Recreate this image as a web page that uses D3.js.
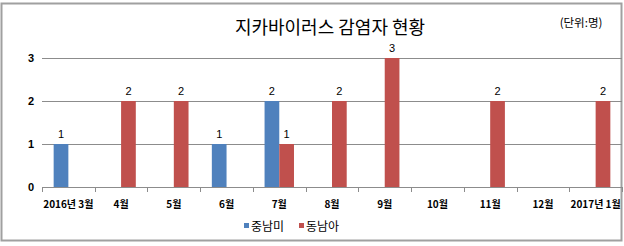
<!DOCTYPE html>
<html><head><meta charset="utf-8">
<script src="https://cdn.jsdelivr.net/npm/d3@7"></script>
<style>body{margin:0;background:#fff;}svg{display:block;font-family:"Noto Sans CJK KR","Noto Sans",sans-serif;}</style>
</head><body>
<script>
const categories = ["2016년 3월","4월","5월","6월","7월","8월","9월","10월","11월","12월","2017년 1월"];
const seriesNames = ["중남미","동남아"];
const centralSouthAmerica = [1,0,0,1,2,0,0,0,0,0,0];
const southeastAsia = [0,2,2,0,1,2,3,0,2,0,2];
const yTicks = [0,1,2,3];
const colors = ["#4F81BD","#C0504D"];
const title = "지카바이러스 감염자 현황";
const unitLabel = "(단위:명)";

(function(){
const W = 624, H = 246;
const svg = d3.select("body").append("svg").attr("width", W).attr("height", H);
svg.append("rect").attr("x",1.5).attr("y",3.5).attr("width",620).attr("height",237)
  .attr("fill","#fff").attr("stroke","#a0a0a0").attr("stroke-width",2);

const pLeft = 42, pRight = 622, pTop = 58, pBottom = 187;
const x = d3.scaleBand().domain(categories).range([pLeft,pRight]).paddingInner(0.442).paddingOuter(0.221);
const outer = d3.scaleBand().domain(categories).range([pLeft,pRight]);
const inner = d3.scaleBand().domain([0,1]).range([0, x.bandwidth()]);
const y = d3.scaleLinear().domain([0,3]).range([pBottom, pTop]);

// gridlines
svg.append("g").selectAll("line").data(yTicks).join("line")
  .attr("x1", pLeft).attr("x2", pRight)
  .attr("y1", d => Math.round(y(d))+0.5).attr("y2", d => Math.round(y(d))+0.5)
  .attr("stroke","#8c8c8c").attr("stroke-width",1);

// y labels
svg.append("g").selectAll("text").data(yTicks).join("text")
  .attr("x", 31).attr("y", d => y(d)).attr("dy","0.35em").attr("text-anchor","middle")
  .attr("font-size",11).attr("font-weight","bold").attr("font-family","Liberation Sans, Arial, sans-serif")
  .text(d => d);

// x ticks
const bounds = categories.map(c => outer(c)).concat([pRight]);
svg.append("g").selectAll("line").data(bounds).join("line")
  .attr("x1", d => Math.round(d)+0.5).attr("x2", d => Math.round(d)+0.5)
  .attr("y1", Math.round(y(0))).attr("y2", Math.round(y(0))+5)
  .attr("stroke","#8c8c8c");

// bars
const series = [centralSouthAmerica, southeastAsia];
series.forEach((vals, s) => {
  const g = svg.append("g");
  vals.forEach((v, i) => {
    if (!v) return;
    const bx = x(categories[i]) + inner(s);
    g.append("rect").attr("x", bx).attr("y", y(v)).attr("width", inner.bandwidth()).attr("height", y(0)-y(v))
      .attr("fill", colors[s]);
    g.append("text").attr("x", bx + inner.bandwidth()/2).attr("y", y(v) - 6)
      .attr("text-anchor","middle").attr("font-size",11).attr("font-family","Liberation Sans, Arial, sans-serif")
      .text(v);
  });
});

// x labels
svg.append("g").selectAll("text").data(categories).join("text")
  .attr("x", d => outer(d) + outer.bandwidth()/2).attr("y", 208)
  .attr("text-anchor","middle").attr("font-size",10).attr("font-weight","bold")
  .text(d => d);

// title
svg.append("text").attr("x", 330).attr("y", 34).attr("text-anchor","middle")
  .attr("font-size",18).text(title);
svg.append("text").attr("x", 581).attr("y", 27).attr("text-anchor","middle")
  .attr("font-size",11.5).text(unitLabel);

// legend
const legX = [244, 299];
seriesNames.forEach((n, s) => {
  svg.append("rect").attr("x", legX[s]).attr("y", 223).attr("width",5).attr("height",5).attr("fill", colors[s]);
  svg.append("text").attr("x", legX[s]+7).attr("y", 231).attr("font-size",12).text(n);
});
})();
</script>
</body></html>
